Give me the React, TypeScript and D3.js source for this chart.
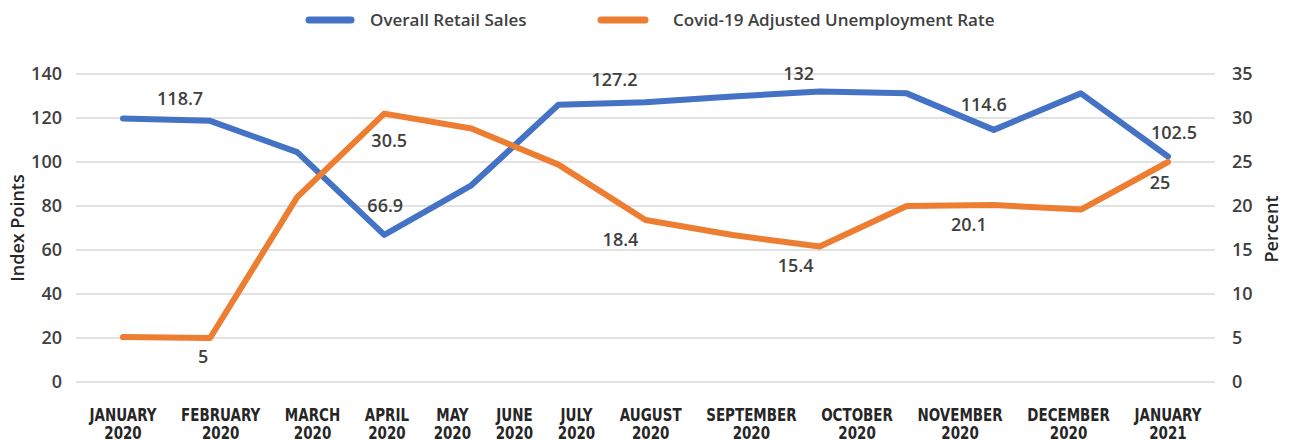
import React, { useMemo } from "react";
import * as d3 from "d3";

const months = ["JANUARY", "FEBRUARY", "MARCH", "APRIL", "MAY", "JUNE", "JULY", "AUGUST", "SEPTEMBER", "OCTOBER", "NOVEMBER", "DECEMBER", "JANUARY"];
const years = ["2020", "2020", "2020", "2020", "2020", "2020", "2020", "2020", "2020", "2020", "2020", "2020", "2021"];
const categories = months.map((m, i) => `${m} ${years[i]}`);
const retailSales = [119.8, 118.7, 104.5, 66.9, 89.4, 126.0, 127.2, 129.8, 132, 131.2, 114.6, 131.2, 102.5];
const unemployment = [5.1, 5, 21.0, 30.5, 28.8, 24.7, 18.4, 16.7, 15.4, 20.0, 20.1, 19.6, 25];
const leftTicks = [0, 20, 40, 60, 80, 100, 120, 140];
const rightTicks = [0, 5, 10, 15, 20, 25, 30, 35];
const seriesNames = ["Overall Retail Sales", "Covid-19 Adjusted Unemployment Rate"];
const labeledMonths = [1, 3, 6, 8, 10, 12];

// manual label nudges (like hand-placed Excel data labels), relative to the point
const retailNudge = [[-30, -22.5], [1, -29], [-31, -23], [-21, -18.5], [-10, -25], [6, -23.5]];
const unempNudge = [[-7, 18.5], [5, 27], [-25, 19], [-24, 19.5], [-25, 19], [-8, 21]];

const W = 1291;
const H = 441;
const BLUE = "#4472C4";
const ORANGE = "#ED7D31";
const TXT = "#404040";

const xFontFamily = "'Liberation Sans Narrow', 'DejaVu Sans Condensed', sans-serif";
const xFont = `bold 17px ${xFontFamily}`;
const xSqueeze = 0.88;
const mainFont = "'Open Sans', 'Noto Sans', sans-serif";

function measure(text: string, font: string): number {
  const ctx = document.createElement("canvas").getContext("2d");
  if (!ctx) return text.length * 9;
  ctx.font = font;
  return ctx.measureText(text).width;
}

export default function App() {
  const x = d3.scalePoint<string>().domain(categories).range([76, 1215]).padding(0.54);
  const yL = d3.scaleLinear().domain([0, 140]).range([382, 74]);
  const yR = d3.scaleLinear().domain([0, 35]).range([382, 74]);

  const lineL = d3
    .line<number>()
    .x((_, i) => x(categories[i]) as number)
    .y((d) => yL(d));
  const lineR = d3
    .line<number>()
    .x((_, i) => x(categories[i]) as number)
    .y((d) => yR(d));

  const labelLayout = useMemo(() => {
    const mW = months.map((m) => measure(m, xFont) * xSqueeze);
    const yW = years.map((y) => measure(y, xFont) * xSqueeze);
    const widths = mW.map((w, i) => Math.max(w, yW[i]));
    const L = (x(categories[0]) as number) - widths[0] / 2;
    const R = (x(categories[categories.length - 1]) as number) + widths[widths.length - 1] / 2;
    const total = widths.reduce((a, b) => a + b, 0);
    const gap = (R - L - total) / (widths.length - 1);
    const centers: number[] = [];
    let cur = L;
    widths.forEach((w) => {
      centers.push(cur + w / 2);
      cur += w + gap;
    });
    return { centers, mW, yW };
  }, []);

  return (
    <svg width={W} height={H} style={{ position: "absolute", left: 0, top: 0, background: "#fff" }}>
      {/* gridlines */}
      {leftTicks.map((t) => (
        <line key={t} x1={76} x2={1215} y1={yL(t)} y2={yL(t)} stroke="#d9d9d9" strokeWidth={1.5} />
      ))}
      {/* left ticks */}
      {leftTicks.map((t) => (
        <text key={"l" + t} x={62} y={yL(t)} dy="0.36em" textAnchor="end" fontFamily={mainFont} fontWeight={600} fontSize={18} fill={TXT}>
          {t}
        </text>
      ))}
      {/* right ticks */}
      {rightTicks.map((t) => (
        <text key={"r" + t} x={1232} y={yR(t)} dy="0.36em" textAnchor="start" fontFamily={mainFont} fontWeight={600} fontSize={18} fill={TXT}>
          {t}
        </text>
      ))}
      {/* axis titles */}
      <text transform="translate(24,228) rotate(-90)" textAnchor="middle" fontFamily={mainFont} fontWeight={600} fontSize={18} fill="#262626">
        Index Points
      </text>
      <text transform="translate(1278,229) rotate(-90)" textAnchor="middle" fontFamily={mainFont} fontWeight={600} fontSize={18} fill="#262626">
        Percent
      </text>
      {/* x labels */}
      {months.map((m, i) => (
        <g key={"x" + i} fontFamily={xFontFamily} fontWeight="bold" fontSize={17} fill="#262626" textAnchor="middle">
          <text x={labelLayout.centers[i]} y={421} textLength={labelLayout.mW[i]} lengthAdjust="spacingAndGlyphs">{m}</text>
          <text x={labelLayout.centers[i]} y={438.5} textLength={labelLayout.yW[i]} lengthAdjust="spacingAndGlyphs">{years[i]}</text>
        </g>
      ))}
      {/* lines */}
      <path d={lineL(retailSales) || ""} fill="none" stroke={BLUE} strokeWidth={6} strokeLinejoin="round" strokeLinecap="round" />
      <path d={lineR(unemployment) || ""} fill="none" stroke={ORANGE} strokeWidth={6} strokeLinejoin="round" strokeLinecap="round" />
      {/* data labels */}
      {labeledMonths.map((idx, k) => (
        <g key={"dl" + idx} fontFamily={mainFont} fontWeight={600} fontSize={18} fill={TXT} textAnchor="middle">
          <text x={(x(categories[idx]) as number) + retailNudge[k][0]} y={yL(retailSales[idx]) + retailNudge[k][1]} dy="0.36em">
            {retailSales[idx]}
          </text>
          <text x={(x(categories[idx]) as number) + unempNudge[k][0]} y={yR(unemployment[idx]) + unempNudge[k][1]} dy="0.36em">
            {unemployment[idx]}
          </text>
        </g>
      ))}
      {/* legend */}
      <line x1={309} x2={351} y1={20} y2={20} stroke={BLUE} strokeWidth={7} strokeLinecap="round" />
      <text x={370} y={20} dy="0.36em" fontFamily={mainFont} fontWeight={600} fontSize={17} fill={TXT}>
        {seriesNames[0]}
      </text>
      <line x1={601} x2={645} y1={20} y2={20} stroke={ORANGE} strokeWidth={7} strokeLinecap="round" />
      <text x={673} y={20} dy="0.36em" fontFamily={mainFont} fontWeight={600} fontSize={17} fill={TXT}>
        {seriesNames[1]}
      </text>
    </svg>
  );
}
